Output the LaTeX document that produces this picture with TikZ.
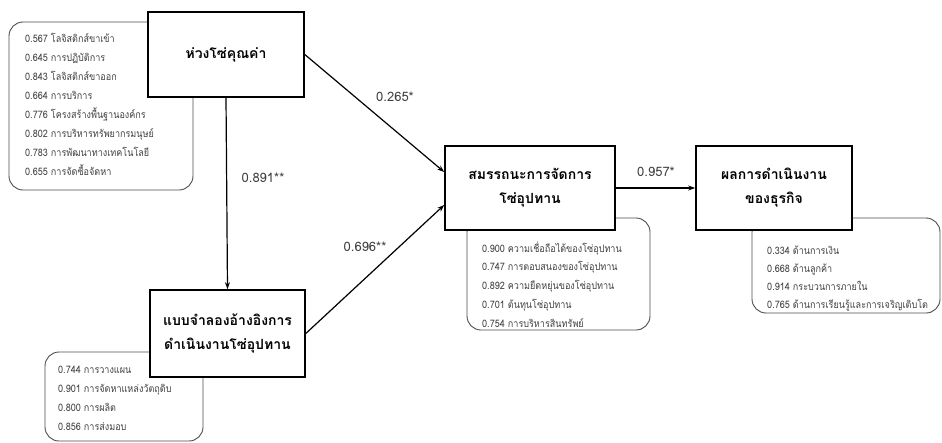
\documentclass[tikz,border=0pt]{standalone}
\usepackage{fontspec}
\setmainfont{Loma}[Script=Thai]
\newfontfamily\itemfont{Loma}[Script=Thai, FakeStretch=0.88]
\usetikzlibrary{arrows.meta}
\begin{document}
\begin{tikzpicture}[x=1pt,y=-1pt,
  mainbox/.style={draw=black, line width=1.6pt, fill=white, align=center,
    font=\fontsize{14}{24}\selectfont\bfseries, inner sep=0pt},
  listbox/.style={draw=black!70, line width=0.9pt, rounded corners=14pt, inner sep=0pt},
  item/.style={anchor=base west, inner sep=0pt, text=black!75, font=\itemfont\fontsize{10.3}{12}\selectfont},
  coef/.style={text=black!75, font=\fontsize{13}{15}\selectfont, inner sep=0pt},
  arr/.style={-{Stealth[length=7pt,width=5pt]}, line width=1.2pt}]
\useasboundingbox (0,0) rectangle (942,442);
% list boxes
\node[listbox, minimum width=184pt, minimum height=168pt] (l1) at (101,106) {};
\node[listbox, minimum width=158pt, minimum height=89pt] (l2) at (124,396.5) {};
\node[listbox, minimum width=183pt, minimum height=112pt] (l3) at (558.5,274) {};
\node[listbox, minimum width=188pt, minimum height=95pt] (l4) at (846,265.5) {};
% items
\foreach \t [count=\i] in {0.567 โลจิสติกส์ขาเข้า,0.645 การปฏิบัติการ,0.843 โลจิสติกส์ขาออก,0.664 การบริการ,0.776 โครงสร้างพื้นฐานองค์กร,0.802 การบริหารทรัพยากรมนุษย์,0.783 การพัฒนาทางเทคโนโลยี,0.655 การจัดซื้อจัดหา}
  \node[item] (a\i) at (25,{42+19*(\i-1)}) {\t};
\foreach \t [count=\i] in {0.744 การวางแผน,0.901 การจัดหาแหล่งวัตถุดิบ,0.800 การผลิต,0.856 การส่งมอบ}
  \node[item] (b\i) at (58,{373+19*(\i-1)}) {\t};
\foreach \t [count=\i] in {0.900 ความเชื่อถือได้ของโซ่อุปทาน,0.747 การตอบสนองของโซ่อุปทาน,0.892 ความยืดหยุ่นของโซ่อุปทาน,0.701 ต้นทุนโซ่อุปทาน,0.754 การบริหารสินทรัพย์}
  \node[item] (c\i) at (482,{252+18.8*(\i-1)}) {\t};
\foreach \t [count=\i] in {0.334 ด้านการเงิน,0.668 ด้านลูกค้า,0.914 กระบวนการภายใน,0.765 ด้านการเรียนรู้และการเจริญเติบโต}
  \node[item] (d\i) at (767,{254+18.2*(\i-1)}) {\t};
% main boxes
\node[mainbox, minimum width=156pt, minimum height=85pt] (m1) at (226,54.5) {ห่วงโซ่คุณค่า};
\node[mainbox, minimum width=155pt, minimum height=87pt] (m2) at (227.5,333.5) {แบบจำลองอ้างอิงการ\\ดำเนินงานโซ่อุปทาน};
\node[mainbox, minimum width=170pt, minimum height=84pt] (m3) at (530,188) {สมรรถนะการจัดการ\\โซ่อุปทาน};
\node[mainbox, minimum width=156pt, minimum height=84pt] (m4) at (774,188) {ผลการดำเนินงาน\\ของธุรกิจ};
% arrows
\draw[arr] (m1.south) -- (m2.north);
\draw[arr] (m1.east) -- ([yshift=16pt]m3.west);
\draw[arr] (m2.east) -- ([yshift=-17pt]m3.west);
\draw[arr] (m3.east) -- (m4.west);
% coefficients
\node[coef] (k1) at (395,97) {0.265*};
\node[coef] (k2) at (263,178) {0.891**};
\node[coef] (k3) at (365,247) {0.696**};
\node[coef] (k4) at (656,172) {0.957*};
\end{tikzpicture}
\end{document}
